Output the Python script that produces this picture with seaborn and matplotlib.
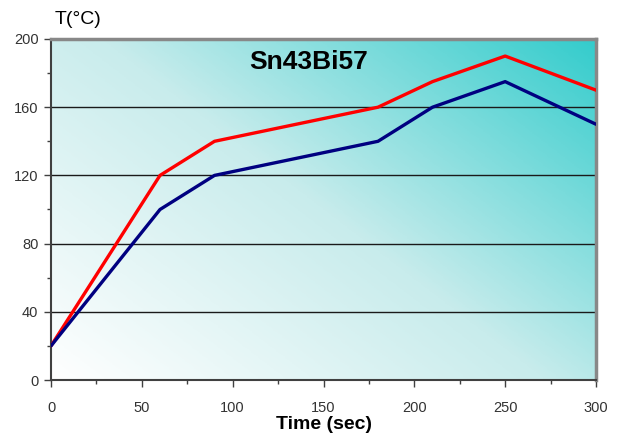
import numpy as np
import pandas as pd
import matplotlib
matplotlib.use("Agg")
import matplotlib.pyplot as plt
from matplotlib.colors import LinearSegmentedColormap
from matplotlib.ticker import MultipleLocator
import seaborn as sns

time_sec = [0, 60, 90, 180, 210, 250, 300]
temp_red = [20, 120, 140, 160, 175, 190, 170]
temp_blue = [20, 100, 120, 140, 160, 175, 150]
title = "Sn43Bi57"

sns.set_theme(style="white")
plt.rcParams['font.family'] = ['Liberation Sans', 'DejaVu Sans']

fig = plt.figure(figsize=(6.19, 4.37), dpi=100)
ax = fig.add_axes([51/619, 1-380/437, (596-51)/619, (380-39)/437])

# gradient background
n = 300
gx, gy = np.meshgrid(np.linspace(0, 1, n), np.linspace(0, 1, n))
g = (gx * 0.55 + gy * 0.45)
cmap = LinearSegmentedColormap.from_list("bg", ["#ffffff", "#c8ecec", "#33cccc"])
ax.imshow(g, extent=[0, 300, 0, 200], origin="lower", cmap=cmap, aspect="auto",
          zorder=0, vmin=0, vmax=1)

for yv in [40, 80, 120, 160]:
    ax.axhline(yv, color="#1a1a1a", lw=1.0, zorder=1)

df = pd.DataFrame({"t": time_sec + time_sec,
                   "T": temp_red + temp_blue,
                   "s": ["red"] * len(time_sec) + ["blue"] * len(time_sec)})
sns.lineplot(data=df, x="t", y="T", hue="s", palette={"red": "#ff0000", "blue": "#000080"},
             lw=2.4, legend=False, ax=ax, zorder=3)

ax.set_xlim(0, 300)
ax.set_ylim(0, 200)
ax.xaxis.set_major_locator(MultipleLocator(50))
ax.xaxis.set_minor_locator(MultipleLocator(25))
ax.yaxis.set_major_locator(MultipleLocator(40))
ax.yaxis.set_minor_locator(MultipleLocator(20))
ax.tick_params(axis="both", which="major", direction="out", length=5, width=1,
               color="#404040", labelsize=10.5, labelcolor="#333333", pad=4,
               bottom=True, left=True)
ax.tick_params(axis="both", which="minor", direction="out", length=3, width=1,
               color="#404040", bottom=True, left=True)
ax.tick_params(axis="x", which="major", pad=10)

for side in ["left", "bottom"]:
    ax.spines[side].set_color("#404040")
    ax.spines[side].set_linewidth(1.5)
for side in ["top", "right"]:
    ax.spines[side].set_color("#888888")
    ax.spines[side].set_linewidth(2.5)

ax.set_xlabel("Time (sec)", fontsize=14, fontweight="bold", color="black", labelpad=1)
ax.set_ylabel("")
fig.text(55/619, 1-20/437, "T(°C)", fontsize=14, color="black", va="center", ha="left")
ax.text(0.473, 0.933, title, transform=ax.transAxes, fontsize=19, fontweight="bold",
        ha="center", va="center", color="black")

fig.savefig("out.png", dpi=100)
